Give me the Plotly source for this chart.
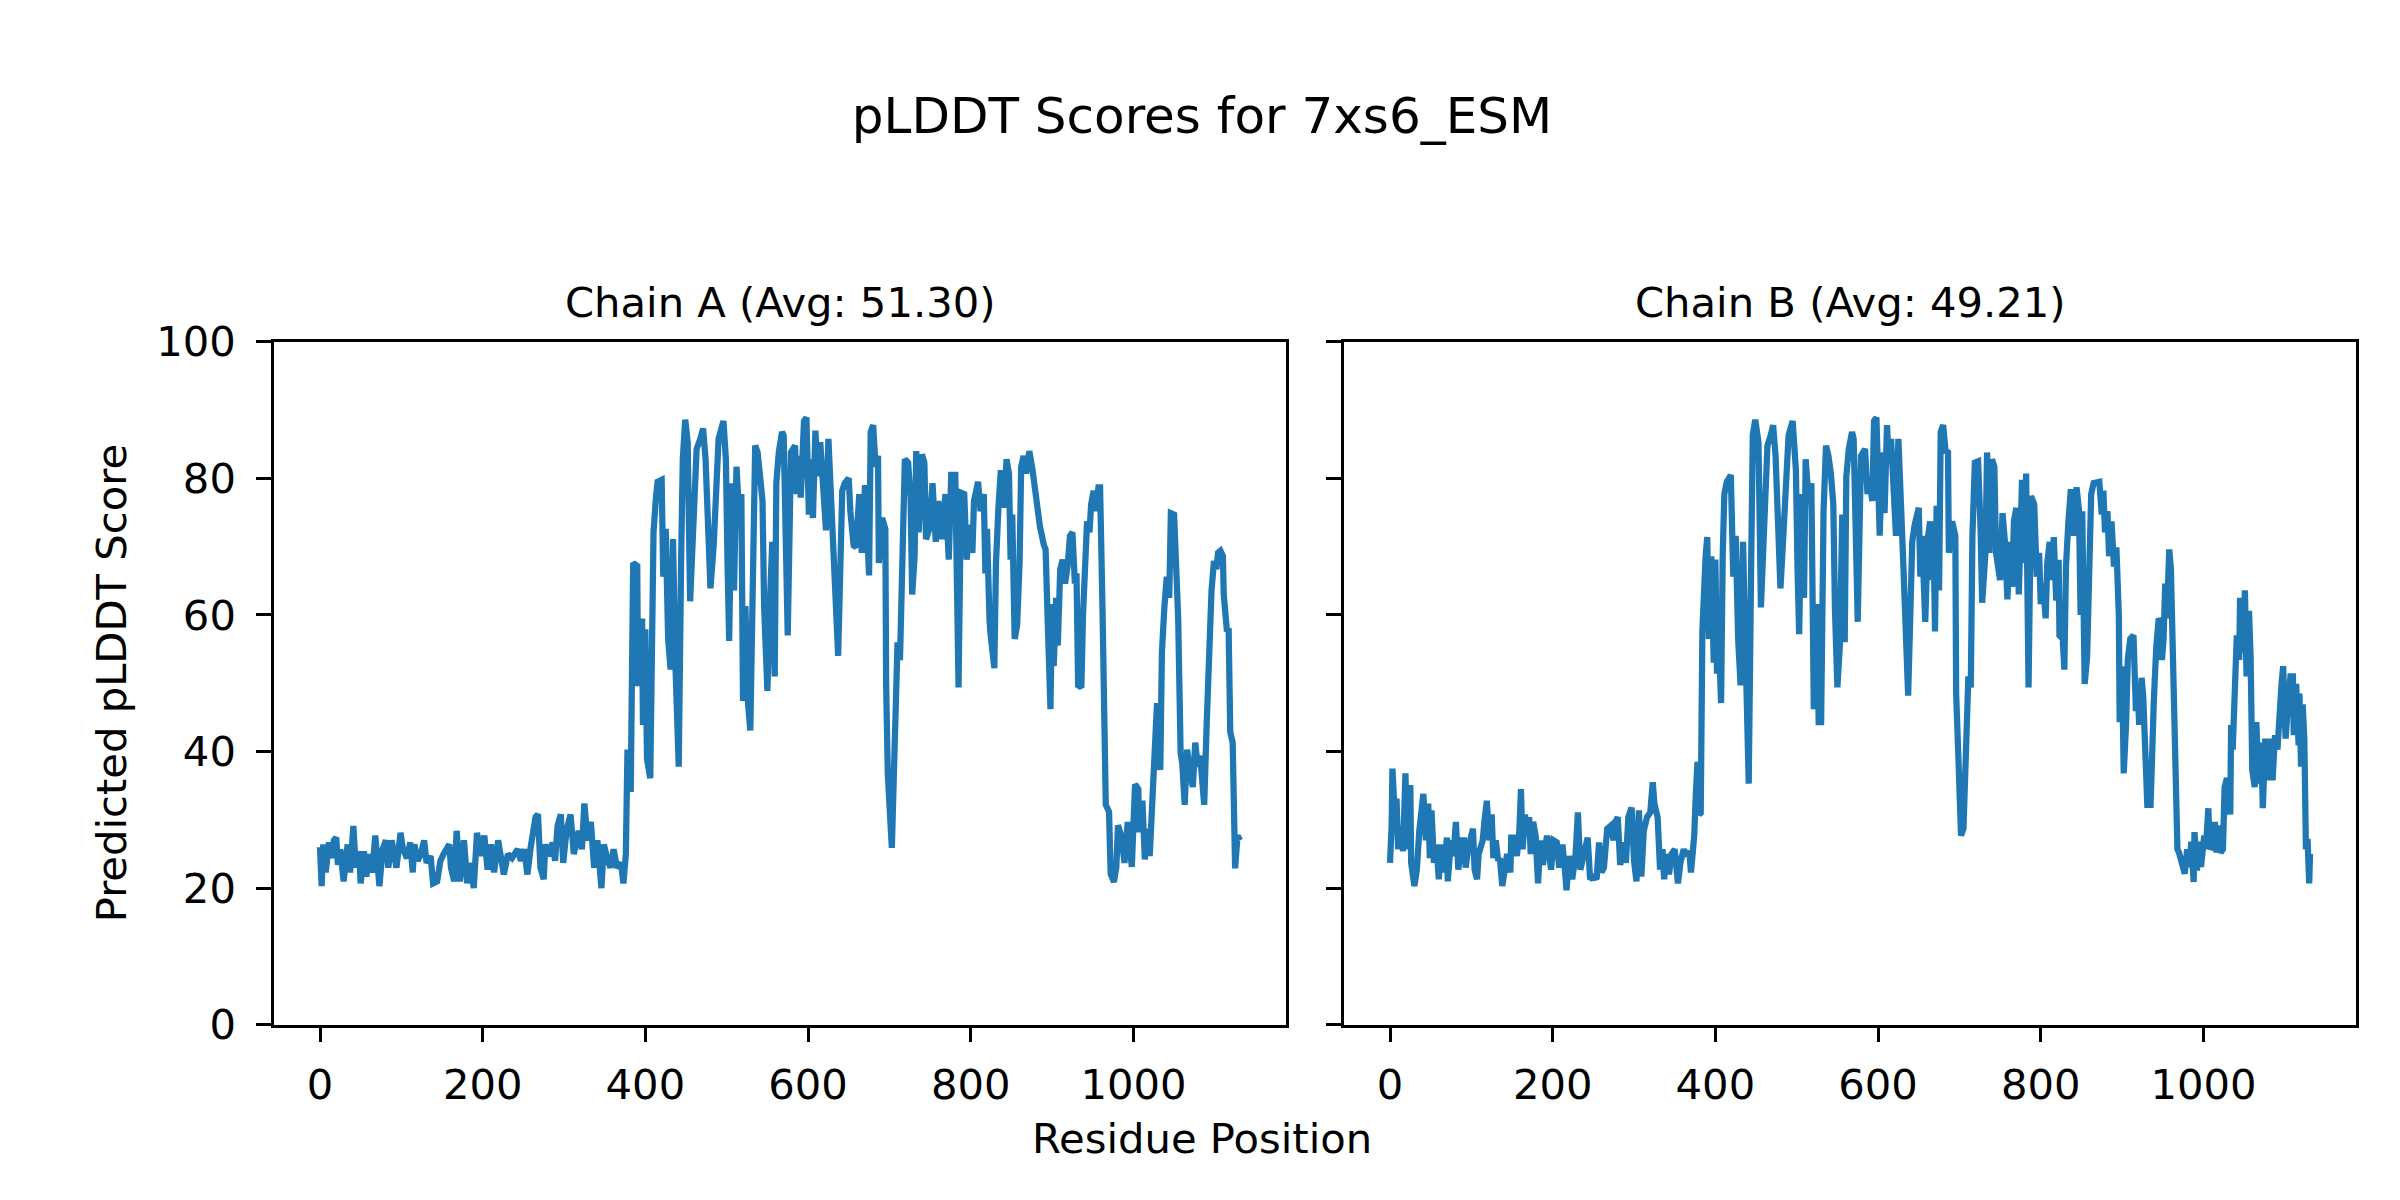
import plotly.graph_objects as go

# ---------------- data ----------------
fig_title = "pLDDT Scores for 7xs6_ESM"
chain_titles = ["Chain A (Avg: 51.30)", "Chain B (Avg: 49.21)"]
x_label = "Residue Position"
y_label = "Predicted pLDDT Score"
x_ticks = [0, 200, 400, 600, 800, 1000]
y_ticks = [0, 20, 40, 60, 80, 100]

res_a = [
    0, 2, 4, 7, 11, 14, 17, 20, 22, 25,
    29, 30, 33, 34, 37, 41, 44, 48, 50, 54,
    57, 60, 64, 68, 73, 77, 81, 84, 88, 91,
    94, 99, 102, 107, 111, 114, 116, 120, 124, 128,
    131, 136, 139, 144, 148, 152, 159, 161, 165, 168,
    172, 177, 181, 185, 189, 193, 198, 202, 206, 210,
    214, 219, 222, 226, 231, 236, 243, 247, 251, 255,
    259, 262, 265, 268, 271, 275, 277, 282, 286, 289,
    292, 296, 299, 303, 308, 312, 318, 322, 325, 329,
    333, 337, 341, 346, 349, 353, 357, 361, 365, 370,
    373, 376,
    378, 382, 384, 385, 390, 391, 396, 397, 400, 402,
    406, 410, 413, 415, 420, 422, 425, 428, 431, 434,
    437, 441, 444, 446, 449, 452, 455, 458, 460, 463,
    467, 471, 474, 477, 480, 484, 488, 490, 496, 499,
    501, 503, 506, 509, 512, 515, 518, 520, 523, 526,
    529, 532, 535, 538, 541, 544, 546, 550, 553, 556,
    559, 561, 564, 568, 570, 572, 575, 579, 584, 586,
    588, 591, 595, 598, 601, 603, 606, 609, 612, 615,
    619, 622, 625, 628, 631, 637, 640, 642, 645, 650,
    652, 656, 659, 663, 666, 670, 675, 677, 680, 683,
    686, 687, 691, 695, 696, 698, 703, 706, 708, 710,
    713, 716, 719, 723, 726, 728, 731, 733, 736, 740,
    743, 745, 749, 753, 757, 760, 764, 769, 773, 776,
    781, 785, 788, 792, 795, 798, 802, 804, 809, 812,
    816, 818, 820, 823, 824, 829, 831, 834, 837, 841,
    844, 847, 849, 851, 854, 857, 860, 862, 865, 868,
    872, 876, 880, 883, 885, 890, 892, 895, 898, 900,
    902, 905, 907, 910, 913, 916, 919, 922, 925, 928,
    930, 932, 936, 938, 940, 943, 946, 948, 951, 954,
    957, 959, 962, 964, 966, 970, 972, 976, 979, 981,
    985, 989, 993, 998, 1000, 1002, 1006, 1007, 1011, 1014,
    1017, 1020, 1023, 1026, 1029, 1033, 1035, 1038, 1041, 1044,
    1046, 1050, 1052, 1055, 1058, 1060, 1063, 1066, 1068, 1073,
    1076, 1079, 1082, 1085, 1087, 1090, 1093, 1096, 1099, 1102,
    1104, 1107, 1110, 1111, 1115, 1117, 1119, 1122, 1125, 1128,
    1131,
]
plddt_a = [
    26.0, 20.3, 26.4, 22.3, 26.7, 24.4, 27.0, 27.4, 23.4, 25.7,
    21.0, 22.3, 25.7, 26.4, 22.3, 29.1, 23.0, 25.4, 20.7, 25.4,
    21.7, 25.0, 22.3, 27.7, 20.3, 25.7, 27.0, 23.0, 27.0, 25.0,
    23.0, 28.1, 25.7, 24.4, 26.7, 22.3, 26.4, 24.0, 25.0, 27.0,
    23.7, 24.7, 20.7, 21.0, 24.0, 25.0, 26.4, 23.0, 21.0, 28.4,
    21.0, 27.0, 20.7, 23.7, 20.0, 28.1, 24.7, 27.7, 22.7, 26.4,
    22.3, 27.0, 25.0, 22.0, 25.0, 24.4, 25.7, 24.0, 25.7, 22.0,
    26.0, 27.7, 30.4, 30.8, 23.0, 21.3, 26.4, 24.7, 26.7, 24.0,
    29.1, 30.8, 23.7, 28.4, 30.8, 25.0, 28.4, 25.7, 32.4, 27.0,
    29.7, 23.0, 27.0, 20.0, 26.4, 24.4, 23.0, 25.7, 23.0, 23.7,
    20.7, 25.0,
    40.3, 34.1, 57.6, 67.6, 67.2, 49.6, 59.5, 43.9, 57.9, 38.9,
    36.1, 72.1, 77.2, 79.5, 79.8, 65.6, 72.6, 56.5, 52.0, 71.1,
    52.5, 37.8, 68.6, 82.8, 88.6, 85.3, 62.0, 71.1, 77.7, 84.3,
    85.6, 87.3, 82.8, 72.6, 63.9, 70.2, 81.2, 85.8, 88.4, 82.7,
    67.6, 56.2, 79.3, 63.6, 81.7, 75.2, 77.7, 47.4, 61.3, 47.4,
    43.1, 73.7, 84.8, 83.8, 79.3, 76.7, 61.1, 48.9, 61.6, 70.7,
    51.0, 79.3, 83.8, 86.8, 86.3, 68.6, 57.0, 83.8, 84.8, 77.7,
    83.3, 77.2, 88.4, 88.9, 74.7, 82.8, 74.2, 87.0, 80.3, 85.3,
    77.7, 72.4, 85.8, 78.7, 71.6, 54.0, 68.6, 78.2, 79.3, 80.0,
    75.2, 70.2, 69.9, 77.7, 69.1, 79.0, 65.8, 86.8, 87.8, 81.7,
    83.3, 67.6, 74.2, 72.6, 49.9, 36.8, 25.9, 39.8, 48.9, 56.0,
    53.4, 73.7, 82.8, 82.3, 77.2, 63.0, 68.6, 84.0, 72.1, 83.5,
    82.3, 71.1, 72.6, 79.3, 70.7, 76.7, 71.1, 77.7, 68.1, 80.5,
    80.5, 49.4, 77.9, 77.7, 68.1, 73.2, 69.1, 76.7, 79.5, 75.2,
    77.7, 66.1, 72.6, 59.5, 57.6, 52.2, 67.6, 75.7, 81.2, 75.7,
    82.8, 80.7, 68.1, 74.7, 56.5, 58.5, 67.6, 81.7, 83.3, 80.7,
    84.0, 81.2, 77.7, 74.2, 73.0, 70.2, 69.6, 57.6, 46.2, 61.6,
    52.5, 62.5, 55.5, 66.7, 68.1, 64.6, 67.1, 71.6, 72.1, 64.6,
    66.1, 49.7, 49.4, 60.0, 67.6, 73.7, 72.1, 76.2, 78.2, 75.2,
    78.7, 78.7, 60.6, 42.4, 32.2, 31.2, 22.1, 20.9, 23.1, 29.2,
    27.7, 23.7, 29.7, 23.1, 31.2, 35.2, 34.5, 28.2, 32.8, 24.2,
    28.7, 24.7, 32.2, 40.3, 47.1, 37.3, 54.5, 61.1, 65.6, 62.5,
    74.9, 74.7, 69.6, 59.5, 39.8, 38.3, 32.2, 40.3, 38.3, 34.8,
    41.3, 37.8, 39.4, 34.8, 32.2, 43.9, 55.5, 63.6, 67.9, 66.7,
    69.1, 69.4, 68.6, 63.0, 57.6, 58.1, 42.9, 41.3, 22.9, 27.7,
    27.0,
]

res_b = [
    0, 2, 3, 6, 8, 10, 13, 16, 19, 21,
    25, 26, 30, 33, 36, 38, 41, 44, 47, 49,
    51, 54, 57, 60, 63, 66, 70, 71, 75, 78,
    81, 84, 88, 91, 93, 96, 99, 102, 104, 107,
    109, 114, 116, 119, 122, 125, 127, 130, 133, 135,
    138, 141, 144, 148, 149, 152, 156, 159, 161, 163,
    166, 168, 171, 173, 176, 179, 182, 185, 188, 193,
    198, 201, 205, 208, 212, 215, 217, 220, 224, 228,
    231, 234, 239, 243, 246, 251, 254, 257, 260, 263,
    267, 271, 275, 277, 280, 283, 287, 290, 293, 297,
    300, 303, 306, 309, 312, 316, 320, 323, 325, 329,
    332, 335, 337, 340, 343, 346, 350, 354, 357, 361,
    364, 368, 370, 374,
    376, 378, 380, 382, 384, 386, 388, 390, 392, 395,
    398, 400, 402, 404, 407, 409, 411, 414, 417, 419,
    422, 425, 428, 431, 434, 437, 441, 444, 446, 449,
    453, 456, 459, 461, 464, 468, 471, 474, 477, 480,
    484, 488, 490, 495, 499, 501, 503, 506, 509, 511,
    515, 518, 521, 525, 527, 530, 533, 536, 539, 542,
    545, 547, 550, 553, 556, 559, 561, 564, 568, 570,
    572, 575, 579, 584, 587, 589, 593, 595, 598, 602,
    605, 608, 611, 613, 616, 619, 622, 625, 628, 631,
    637, 640, 642, 645, 650, 652, 654, 658, 661, 664,
    666, 668, 670, 672, 675, 677, 680, 683, 686, 687,
    691, 695, 696, 699, 702, 705, 707, 709, 711, 714,
    716, 719, 723, 726, 728, 732, 734, 737, 740, 743,
    745, 750, 753, 756, 759, 762, 765, 767, 770, 773,
    777, 780, 782, 785, 788, 792, 795, 798, 800, 803,
    806, 808, 811, 814, 816, 819, 822, 823, 827, 829,
    831, 834, 837, 841, 844, 847, 849, 851, 854, 857,
    860, 862, 865, 868, 872, 875, 877, 879, 882, 884,
    887, 890, 893, 896, 897, 900, 902, 905, 907, 910,
    914, 917, 919, 921, 924, 926, 929, 931, 935, 937,
    939, 942, 945, 947, 949, 951, 953, 955, 958, 960,
    962, 964, 966, 968, 970, 973, 977, 980, 983, 985,
    988, 989, 992, 995, 997, 1001, 1003, 1006, 1008, 1011,
    1014, 1016, 1018, 1021, 1024, 1026, 1029, 1033, 1034, 1036,
    1038, 1041, 1044, 1045, 1048, 1051, 1053, 1056, 1058, 1060,
    1063, 1065, 1068, 1071, 1073, 1076, 1079, 1082, 1085, 1088,
    1091, 1093, 1096, 1098, 1101, 1103, 1107, 1110, 1111, 1114,
    1117, 1118, 1120, 1122, 1124, 1126, 1128, 1130, 1131,
]
plddt_b = [
    23.7, 29.1, 37.5, 30.4, 33.1, 25.7, 29.1, 25.4, 36.8, 25.7,
    35.1, 23.7, 20.3, 22.7, 28.4, 30.1, 33.8, 27.0, 32.4, 24.4,
    31.4, 23.7, 26.4, 21.3, 26.4, 22.3, 27.4, 21.0, 27.0, 24.7,
    29.7, 22.7, 27.0, 27.0, 23.0, 25.7, 27.7, 28.7, 22.7, 21.3,
    25.0, 27.0, 29.7, 32.8, 27.0, 30.8, 24.4, 27.0, 24.0, 24.4,
    20.3, 23.0, 25.0, 22.3, 27.4, 27.4, 24.7, 28.4, 34.5, 25.7,
    30.8, 27.7, 30.4, 25.0, 29.7, 27.7, 20.7, 27.0, 23.4, 27.7,
    22.7, 27.0, 26.7, 23.0, 26.4, 22.7, 19.7, 24.7, 21.3, 24.7,
    31.1, 22.7, 25.0, 27.4, 21.3, 21.7, 21.3, 26.7, 22.3, 23.0,
    28.7, 29.1, 27.0, 29.7, 30.4, 23.4, 26.7, 23.7, 30.4, 31.8,
    24.0, 21.0, 31.4, 21.7, 28.4, 30.4, 31.1, 35.5, 32.4, 30.4,
    22.7, 25.7, 21.3, 25.0, 22.0, 25.0, 25.7, 20.7, 23.7, 25.7,
    24.7, 25.4, 22.3, 27.7,
    33.8, 38.5, 30.8, 31.0, 57.6, 66.1, 68.6, 71.4, 56.5, 68.6,
    53.0, 68.1, 51.4, 57.6, 47.1, 68.6, 77.7, 79.5, 80.0, 80.5,
    65.6, 71.6, 56.5, 49.7, 70.7, 54.5, 35.3, 67.6, 86.3, 88.6,
    85.3, 61.1, 69.6, 80.3, 84.8, 86.3, 87.8, 83.3, 73.7, 63.9,
    72.6, 82.3, 86.3, 88.4, 81.2, 66.7, 57.2, 77.7, 62.5, 82.8,
    76.2, 79.3, 46.2, 61.6, 44.3, 44.3, 75.2, 84.8, 83.3, 80.7,
    76.2, 60.8, 49.4, 55.5, 74.7, 56.0, 80.3, 84.3, 86.8, 85.8,
    71.6, 59.0, 83.3, 84.3, 77.7, 79.8, 76.7, 88.4, 88.9, 71.6,
    83.8, 74.9, 87.8, 82.8, 85.8, 77.7, 71.6, 85.8, 78.7, 67.6,
    48.2, 66.7, 70.7, 73.2, 75.7, 65.6, 71.6, 59.0, 71.1, 73.7,
    65.1, 73.7, 57.6, 76.0, 63.6, 86.8, 87.8, 84.0, 83.8, 69.1,
    73.7, 71.6, 48.5, 38.3, 27.7, 28.7, 37.3, 45.4, 51.0, 49.4,
    71.6, 82.3, 82.5, 72.6, 61.8, 69.1, 83.8, 69.1, 82.8, 81.7,
    69.1, 65.1, 74.9, 70.7, 62.3, 70.7, 64.1, 73.7, 75.7, 63.0,
    79.8, 67.6, 80.7, 49.4, 77.4, 76.2, 65.6, 69.1, 61.6, 64.6,
    59.5, 67.6, 70.7, 65.1, 71.4, 62.1, 68.1, 57.0, 56.5, 52.0,
    67.1, 73.7, 78.4, 71.6, 78.7, 75.4, 60.0, 75.2, 49.9, 53.9,
    68.6, 77.7, 79.3, 79.3, 79.5, 74.7, 78.2, 72.1, 75.2, 68.6,
    73.7, 67.1, 69.9, 60.0, 44.3, 52.5, 36.8, 44.3, 53.4, 56.5,
    57.0, 45.9, 49.4, 43.9, 50.8, 48.0, 38.3, 32.2, 32.2, 45.9,
    47.4, 55.3, 59.5, 59.0, 53.4, 56.5, 64.6, 59.5, 69.6, 66.7,
    57.6, 42.4, 34.8, 25.7, 25.2, 23.7, 22.1, 25.7, 23.1, 26.8,
    20.9, 28.2, 22.6, 26.8, 23.1, 27.7, 25.7, 31.7, 25.7, 26.2,
    29.7, 25.2, 29.2, 25.2, 25.7, 34.8, 36.1, 30.8, 43.9, 40.3,
    47.4, 57.0, 53.4, 62.5, 54.5, 63.6, 51.0, 60.6, 53.9, 37.3,
    34.8, 44.3, 35.3, 41.3, 31.7, 41.9, 35.8, 41.9, 35.8, 42.4,
    40.3, 46.4, 49.9, 52.5, 41.9, 45.4, 51.0, 51.0, 42.4, 49.9,
    40.9, 48.5, 37.8, 46.9, 41.9, 25.7, 27.2, 20.7, 25.0,
]

assert len(res_a) == len(plddt_a), (len(res_a), len(plddt_a))
assert len(res_b) == len(plddt_b), (len(res_b), len(plddt_b))

# ---------------- style ----------------
W, H = 2400, 1200
FONT = "DejaVu Sans"
LINE_COLOR = "#1f77b4"
AX_LW = 3.3
TICK_LEN = 14.6
TICK_FS = 41.7
LABEL_FS = 41.7
TITLE_FS = 50
DX = -6  # horizontal nudge

dom_a = [(272 + DX) / W, (1284 + DX) / W]
dom_b = [(1342 + DX) / W, (2354 + DX) / W]
dom_y = [1 - 1035 / H, 1 - 323 / H]
x_range = [-56.55, 1187.55]

fig = go.Figure()
fig.add_trace(go.Scatter(x=res_a, y=plddt_a, mode="lines",
                         line=dict(color=LINE_COLOR, width=6.25),
                         xaxis="x", yaxis="y", showlegend=False,
                         hoverinfo="skip"))
fig.add_trace(go.Scatter(x=res_b, y=plddt_b, mode="lines",
                         line=dict(color=LINE_COLOR, width=6.25),
                         xaxis="x2", yaxis="y2", showlegend=False,
                         hoverinfo="skip"))

axis_common = dict(showline=True, linecolor="black", linewidth=AX_LW,
                   mirror=True, ticks="outside", ticklen=TICK_LEN,
                   tickwidth=AX_LW, tickcolor="black", showgrid=False,
                   zeroline=False,
                   tickfont=dict(family=FONT, size=TICK_FS, color="black"))

fig.update_layout(
    width=W, height=H,
    paper_bgcolor="white", plot_bgcolor="white",
    margin=dict(l=0, r=0, t=0, b=0),
    font=dict(family=FONT, color="black"),
    title=dict(text=fig_title, x=(1200 + DX) / W, xanchor="center",
               y=1 - 107 / H, yanchor="middle",
               font=dict(family=FONT, size=TITLE_FS, color="black")),
    xaxis=dict(domain=dom_a, range=x_range, tickvals=x_ticks,
               anchor="y", ticklabelstandoff=6, **axis_common),
    xaxis2=dict(domain=dom_b, range=x_range, tickvals=x_ticks,
                anchor="y2", ticklabelstandoff=6, **axis_common),
    yaxis=dict(domain=dom_y, range=[0, 100], tickvals=y_ticks,
               anchor="x", ticklabelstandoff=12, **axis_common),
    yaxis2=dict(domain=dom_y, range=[0, 100], tickvals=y_ticks,
                anchor="x2", matches="y", showticklabels=False,
                **axis_common),
    annotations=[
        dict(text=chain_titles[0], x=(dom_a[0] + dom_a[1]) / 2,
             y=1 - 282 / H, xref="paper", yref="paper",
             xanchor="center", yanchor="middle", showarrow=False,
             font=dict(family=FONT, size=LABEL_FS, color="black")),
        dict(text=chain_titles[1], x=(dom_b[0] + dom_b[1]) / 2,
             y=1 - 282 / H, xref="paper", yref="paper",
             xanchor="center", yanchor="middle", showarrow=False,
             font=dict(family=FONT, size=LABEL_FS, color="black")),
        dict(text=x_label, x=(1200 + DX) / W, y=1 - 1154 / H,
             xref="paper", yref="paper", xanchor="center",
             yanchor="middle", showarrow=False,
             font=dict(family=FONT, size=LABEL_FS, color="black")),
        dict(text=y_label, x=(109 + DX) / W, y=1 - 679 / H, xref="paper",
             yref="paper", xanchor="center", yanchor="middle",
             showarrow=False, textangle=-90,
             font=dict(family=FONT, size=LABEL_FS, color="black")),
    ],
)

fig.write_html("out.html")
